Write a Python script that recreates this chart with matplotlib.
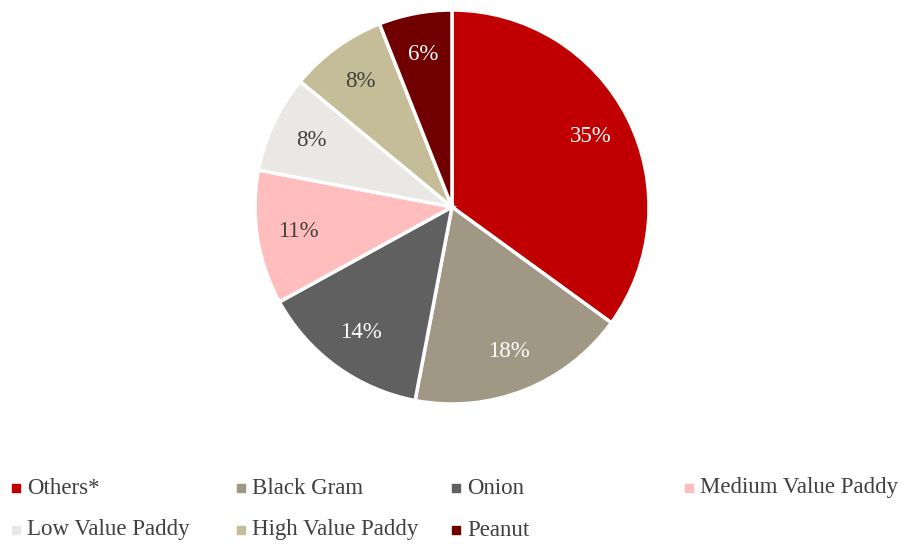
import matplotlib.pyplot as plt

plt.rcParams['font.family'] = ['Liberation Serif', 'DejaVu Serif']

crops = ["Others*", "Black Gram", "Onion", "Medium Value Paddy",
         "Low Value Paddy", "High Value Paddy", "Peanut"]
shares = [35, 18, 14, 11, 8, 8, 6]
colors = ["#C00000", "#A09884", "#606060", "#FFBDBD",
          "#EAE8E4", "#C4BD97", "#700000"]
label_colors = ["white", "white", "white", "#404040",
                "#404040", "#404040", "white"]

W, H = 906, 545
fig = plt.figure(figsize=(W / 100, H / 100), dpi=100)

# pie sits in a square box, centre ~ (452, 207) px, radius ~197 px
cx, cy, r = 452, 207, 197
ax = fig.add_axes([(cx - r) / W, (H - cy - r) / H, 2 * r / W, 2 * r / H])
wedges, _, pcts = ax.pie(shares, colors=colors, startangle=90, counterclock=False,
                         autopct='%.0f%%', pctdistance=0.79, radius=1,
                         wedgeprops=dict(edgecolor="white", linewidth=2.5),
                         textprops=dict(fontsize=16.5))
for t, c in zip(pcts, label_colors):
    t.set_color(c)
for w in wedges:
    w.set_clip_on(False)
ax.set_xlim(-1, 1)
ax.set_ylim(-1, 1)
ax.set_aspect('equal', adjustable='box')
ax.axis('off')

# legend laid out by hand in pixel positions
leg = fig.add_axes([0, 0, 1, 1])
leg.set_xlim(0, W)
leg.set_ylim(H, 0)
leg.axis('off')
spots = [(16, 488), (241, 488), (456, 488), (689, 488),
         (16, 530), (241, 530), (456, 530)]
for (x, y), name, col in zip(spots, crops, colors):
    leg.scatter([x], [y], marker='s', s=40, color=col)
    leg.text(x + 11, y, name, fontsize=16.5, color="#404040", va='center', ha='left')

fig.savefig("out.png", dpi=100, facecolor="white")
